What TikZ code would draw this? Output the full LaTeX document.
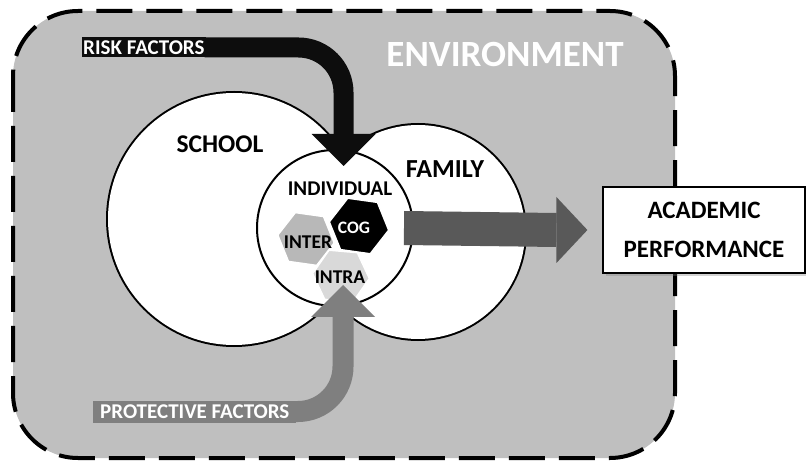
\documentclass[tikz,border=0pt]{standalone}
\usepackage{fontspec}
\setmainfont{Carlito}
\usetikzlibrary{calc,shapes.geometric,shadows}
\definecolor{envgray}{HTML}{BFBFBF}
\definecolor{riskblack}{HTML}{0D0D0D}
\definecolor{protgray}{HTML}{7F7F7F}
\definecolor{outgray}{HTML}{595959}
\definecolor{intergray}{HTML}{B8B8B8}
\definecolor{intragray}{HTML}{D9D9D9}
\newcommand{\fsize}[1]{\fontsize{#1}{#1}\selectfont\bfseries}

\begin{document}
\begin{tikzpicture}[x=1pt, y=-1pt,
    lbl/.style={font=\fsize{#1}, inner sep=0pt},
    hex/.style={regular polygon, regular polygon sides=6, draw=white, line width=1.5pt, inner sep=0pt},
    band/.style={line width=#1, rounded corners=45pt},
    factor/.style={anchor=west, text=white, font=\fsize{21}, inner ysep=0pt, minimum height=#1}
]
    \useasboundingbox (0,0) rectangle (806,462);
    \draw[fill=envgray, line width=4pt, dash pattern=on 36pt off 14pt, rounded corners=65pt]
        (13,11) rectangle (675,458);
    \node[lbl=37, text=white] (env) at (505,54) {ENVIRONMENT};

    % school and family, outlines hidden where they overlap
    \filldraw[fill=white, line width=4pt] (234,219) circle[radius=126pt] (418,232) circle[radius=107pt];
    \fill[white] (234,219) circle[radius=126pt] (418,232) circle[radius=107pt];
    \node[lbl=25.5] (school) at (220,144) {SCHOOL};
    \node[lbl=26] (family) at (445,169) {FAMILY};

    \node[circle, draw, fill=white, line width=2pt, minimum size=156pt, inner sep=0pt] (ind) at (335,228) {};
    \node[lbl=21] (indlbl) at (340,189) {INDIVIDUAL};
    \node[hex, fill=intragray, minimum size=57pt, shape border rotate=-5] (intra) at (341,276) {};
    \node[hex, fill=intergray, minimum size=57pt, shape border rotate=-8] (inter) at (306,239) {};
    \node[hex, fill=black, minimum size=60pt, shape border rotate=-8] (cog) at (359,226) {};
    \node[lbl=19.5] at (340,277) {INTRA};
    \node[lbl=19.5] at (308,242) {INTER};
    \node[lbl=17.5, text=white] at (354,228) {COG};

    % risk factors
    \coordinate (riskend) at (343.5,134);
    \node[factor=20pt, fill=riskblack, inner xsep=1pt] (risk) at (82,47.5) {RISK FACTORS};
    \draw[band=20pt, riskblack] ([xshift=-1pt]risk.east) -| (riskend);
    \fill[riskblack] ($(riskend)+(-32,0)$) -- ($(riskend)+(32,0)$) -- ($(riskend)+(0,32)$) -- cycle;

    % protective factors
    \coordinate (protend) at (343,317);
    \node[factor=22pt, fill=protgray, inner xsep=7pt] (prot) at (93,411.5) {PROTECTIVE FACTORS};
    \draw[band=21pt, protgray] ([xshift=-1pt]prot.east) -| (protend);
    \fill[protgray] ($(protend)+(-32,0)$) -- ($(protend)+(32,0)$) -- ($(protend)+(0,-32)$) -- cycle;

    % outcome
    \node[draw, fill=white, line width=1.2pt, minimum width=202pt, minimum height=86pt, align=center,
        font=\fsize{25}, drop shadow={opacity=0.35, shadow xshift=3pt, shadow yshift=-3pt}]
        (perf) at (704,230) {ACADEMIC\\[14pt]PERFORMANCE};
    \draw[outgray, line width=34pt] ([xshift=-10pt]ind.east) -- ([xshift=-46pt]perf.west);
    \fill[outgray] ([xshift=-46pt, yshift=33pt]perf.west) -- ([xshift=-15pt]perf.west)
        -- ([xshift=-46pt, yshift=-33pt]perf.west) -- cycle;
\end{tikzpicture}
\end{document}
